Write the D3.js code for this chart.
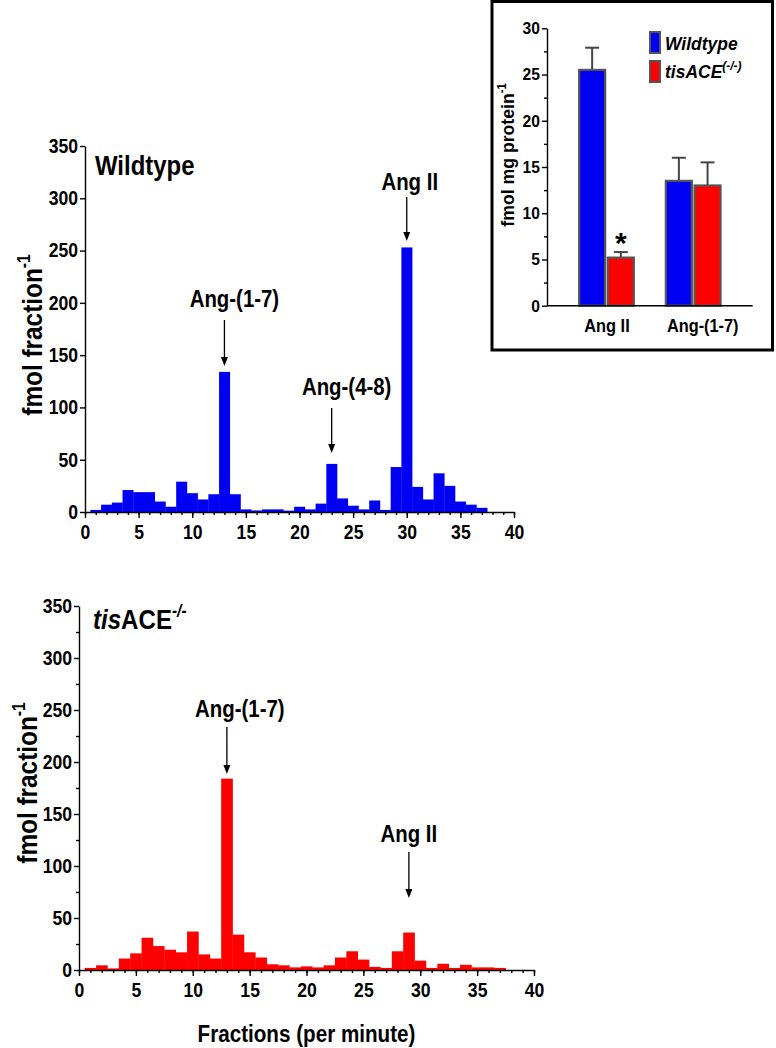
<!DOCTYPE html>
<html><head><meta charset="utf-8">
<script src="https://cdn.jsdelivr.net/npm/d3@7"></script>
<style>
body{margin:0;background:#fff;}
svg{display:block;font-family:"Liberation Sans",Arial,Helvetica,sans-serif;font-weight:bold;}
</style></head><body>
<svg id="c" width="776" height="1048"></svg>
<script>
// ---------------- data ----------------
const fractions = d3.range(1, 38);
const wildtypeValues = [2,7,9,21,19,19,10,5,29,18,12,17,134,17,2.5,1.5,2.5,2.5,1.3,5,2.5,8,46,13,6,2.5,11,2,43,253,24,12,37,25,10,7,4];
const tisACEValues   = [2,4.5,1.5,11,16,31,23,19.5,17,37,15,11,184,34,17,12,5.5,4.5,2.5,3.5,2.5,4.5,12,18,10,3,2,18,36,9,2,6,2,5,2.5,2.5,2];
const xTickValues = [0,5,10,15,20,25,30,35,40];
const yTickValues = [0,50,100,150,200,250,300,350];
const wtPeakLabels = ["Ang-(1-7)","Ang-(4-8)","Ang II"];
const wtPeakFractions = [13,23,30];
const koPeakLabels = ["Ang-(1-7)","Ang II"];
const koPeakFractions = [13,29];
const insetGroups = ["Ang II","Ang-(1-7)"];
const insetSeries = ["Wildtype","tisACE"];
const insetWildtypeMean = [25.5,13.5];
const insetWildtypeErr  = [2.4,2.5];
const insetTisACEMean   = [5.2,13.0];
const insetTisACEErr    = [0.6,2.5];
const insetTicks = [0,5,10,15,20,25,30];

const BLUE = "#0000f5", RED = "#ff0000";
const svg = d3.select("#c");

function panel(cfg){
  const g = svg.append("g");
  const x = d3.scaleLinear().domain([0,40]).range(cfg.xr);
  const y = d3.scaleLinear().domain([0,350]).range(cfg.yr);
  g.selectAll("rect.bar").data(cfg.values).join("rect")
    .attr("x",(d,i)=>x(fractions[i]-0.5))
    .attr("width",(d,i)=>x(fractions[i]+0.5)-x(fractions[i]-0.5)+0.3)
    .attr("y",d=>y(d)).attr("height",d=>y(0)-y(d))
    .attr("fill",cfg.color);
  g.append("g").attr("transform",`translate(0,${cfg.yr[0]})`)
    .call(d3.axisBottom(x).tickValues(d3.range(0,41)).tickSize(3).tickSizeOuter(0).tickFormat(""))
    .call(a=>a.select(".domain").remove());
  const xa = g.append("g").attr("transform",`translate(0,${cfg.yr[0]})`)
    .call(d3.axisBottom(x).tickValues(xTickValues).tickSize(6).tickSizeOuter(0));
  xa.selectAll("text").attr("y",13).attr("font-size",20).attr("fill","#000").classed("cond",true).attr("data-k",0.88);
  if(cfg.yMinor){
    g.append("g").attr("transform",`translate(${cfg.xr[0]},0)`)
      .call(d3.axisLeft(y).tickValues(d3.range(25,350,50)).tickSize(3).tickSizeOuter(0).tickFormat(""))
      .call(a=>a.select(".domain").remove());
  }
  const ya = g.append("g").attr("transform",`translate(${cfg.xr[0]},0)`)
    .call(d3.axisLeft(y).tickValues(yTickValues).tickSize(5).tickPadding(2).tickSizeOuter(0));
  ya.selectAll("text").attr("font-size",20).attr("fill","#000").classed("cond",true).attr("data-k",0.88);
  g.selectAll(".domain, .tick line").attr("stroke","#000").attr("stroke-width",1.4);
  g.selectAll("g").attr("font-family",null);
  const yl = g.append("g").attr("transform",`translate(${cfg.yLabelX},${cfg.yLabelY}) rotate(-90)`)
    .append("text").attr("text-anchor","middle").attr("font-size",28).classed("cond",true).attr("data-k",0.87);
  yl.append("tspan").text("fmol fraction");
  yl.append("tspan").attr("font-size",18).attr("dy",-12).text("-1");
  cfg.peaks.forEach((lab,i)=>{
    const f = cfg.peakFr[i], L = cfg.peakLayout[i];
    const ax = x(f);
    g.append("text").attr("x",ax+L.dx).attr("y",L.base).attr("text-anchor","middle")
      .attr("font-size",24).classed("cond",true).attr("data-k",0.85).text(lab);
    g.append("line").attr("x1",ax).attr("x2",ax).attr("y1",L.a0).attr("y2",L.a1-8)
      .attr("stroke","#000").attr("stroke-width",1.3);
    g.append("path").attr("d",`M${ax-3.5},${L.a1-9}L${ax+3.5},${L.a1-9}L${ax},${L.a1}Z`).attr("fill","#000");
  });
  return g;
}

const topPanel = panel({xr:[85,514], yr:[512,146], values:wildtypeValues, color:BLUE, yMinor:false,
  yLabelX:42, yLabelY:335, peaks:wtPeakLabels, peakFr:wtPeakFractions,
  peakLayout:[{dx:10,base:307,a0:320,a1:366},{dx:15,base:395,a0:408,a1:453},{dx:3,base:190,a0:197,a1:241}]});
topPanel.append("text").attr("x",95).attr("y",175).attr("font-size",28).classed("cond",true).attr("data-k",0.855).text("Wildtype");

const botPanel = panel({xr:[79,534], yr:[970,606], values:tisACEValues, color:RED, yMinor:true,
  yLabelX:37, yLabelY:783, peaks:koPeakLabels, peakFr:koPeakFractions,
  peakLayout:[{dx:13,base:717,a0:727,a1:774},{dx:0,base:842,a0:852,a1:898}]});
const tt = botPanel.append("text").attr("x",93).attr("y",629).attr("font-size",28).classed("cond",true).attr("data-k",0.86);
tt.append("tspan").attr("font-style","italic").text("tis");
tt.append("tspan").text("ACE");
tt.append("tspan").attr("font-style","italic").attr("font-size",18).attr("dy",-12).text("-/-");
botPanel.append("text").attr("x",306.5).attr("y",1042).attr("text-anchor","middle").attr("font-size",24)
  .classed("cond",true).attr("data-k",0.86).text("Fractions (per minute)");

// ---------------- inset ----------------
const ins = svg.append("g");
ins.append("rect").attr("x",492).attr("y",1.5).attr("width",280.5).attr("height",348.5)
  .attr("fill","#fff").attr("stroke","#000").attr("stroke-width",3);
const ix = d3.scalePoint().domain(insetGroups).range([547,752.7]).padding(0.686);
const iy = d3.scaleLinear().domain([0,30]).range([305.7,28.3]);
const bw = 26, gap = 2.7;
const seriesData = [
  {name:insetSeries[0], mean:insetWildtypeMean, err:insetWildtypeErr, color:BLUE, off:-(bw+gap/2)},
  {name:insetSeries[1], mean:insetTisACEMean, err:insetTisACEErr, color:RED, off:gap/2}
];
seriesData.forEach(s=>{
  insetGroups.forEach((grp,i)=>{
    const bx = ix(grp)+s.off, cx = bx+bw/2;
    const et = iy(s.mean[i]+s.err[i]);
    ins.append("line").attr("x1",cx).attr("x2",cx).attr("y1",iy(s.mean[i])).attr("y2",et)
      .attr("stroke","#444").attr("stroke-width",2);
    ins.append("line").attr("x1",cx-7).attr("x2",cx+7).attr("y1",et).attr("y2",et)
      .attr("stroke","#444").attr("stroke-width",2);
    ins.append("rect").attr("x",bx).attr("width",bw).attr("y",iy(s.mean[i])).attr("height",iy(0)-iy(s.mean[i]))
      .attr("fill",s.color).attr("stroke","#555").attr("stroke-width",2.2);
  });
});
ins.append("text").attr("x",ix(insetGroups[0])+gap/2+bw/2).attr("y",iy(insetTisACEMean[0]+insetTisACEErr[0])+1)
  .attr("text-anchor","middle").attr("font-size",30).text("*");
ins.append("g").attr("transform",`translate(547,0)`)
  .call(d3.axisLeft(iy).tickValues(d3.range(2.5,30,5)).tickSize(3).tickSizeOuter(0).tickFormat(""))
  .call(a=>a.select(".domain").remove());
const iya = ins.append("g").attr("transform",`translate(547,0)`)
  .call(d3.axisLeft(iy).tickValues(insetTicks).tickSize(5).tickPadding(2).tickSizeOuter(0));
iya.selectAll("text").attr("font-size",17).attr("fill","#000").classed("cond",true).attr("data-k",0.92);
const ixa = ins.append("g").attr("transform",`translate(0,${iy(0)})`)
  .call(d3.axisBottom(ix).tickSize(0).tickSizeOuter(0).tickPadding(13));
ixa.select(".domain").attr("d",`M547,0H752.7`);
ixa.selectAll("text").attr("font-size",19).attr("fill","#000").attr("dx",(d,i)=>i===1?9:0)
  .classed("cond",true).attr("data-k",0.86);
ins.selectAll(".domain, .tick line").attr("stroke","#000").attr("stroke-width",1.4);
ins.selectAll("g").attr("font-family",null);
const iyl = ins.append("g").attr("transform","translate(514,155) rotate(-90)")
  .append("text").attr("text-anchor","middle").attr("font-size",19).classed("cond",true).attr("data-k",0.93);
iyl.append("tspan").text("fmol mg protein");
iyl.append("tspan").attr("font-size",12).attr("dy",-8).text("-1");
const legY = [32,61];
seriesData.forEach((s,i)=>{
  ins.append("rect").attr("x",650).attr("y",legY[i]).attr("width",10).attr("height",21)
    .attr("fill",s.color).attr("stroke","#555").attr("stroke-width",2);
});
ins.append("text").attr("x",665).attr("y",50).attr("font-size",19).attr("font-style","italic")
  .classed("cond",true).attr("data-k",0.92).text(insetSeries[0]);
const lt = ins.append("text").attr("x",665).attr("y",78).attr("font-size",19).attr("font-style","italic")
  .classed("cond",true).attr("data-k",0.92);
lt.append("tspan").text("tisACE");
lt.append("tspan").attr("font-size",13).attr("dy",-8).text("(-/-)");

svg.selectAll("text.cond").each(function(){
  const k = +this.getAttribute("data-k");
  const b = this.getBBox();
  const an = getComputedStyle(this).textAnchor;
  let ax = b.x; if(an==="middle") ax = b.x+b.width/2; else if(an==="end") ax = b.x+b.width;
  this.setAttribute("transform",`translate(${ax},0) scale(${k},1) translate(${-ax},0)`);
});
</script>
</body></html>
